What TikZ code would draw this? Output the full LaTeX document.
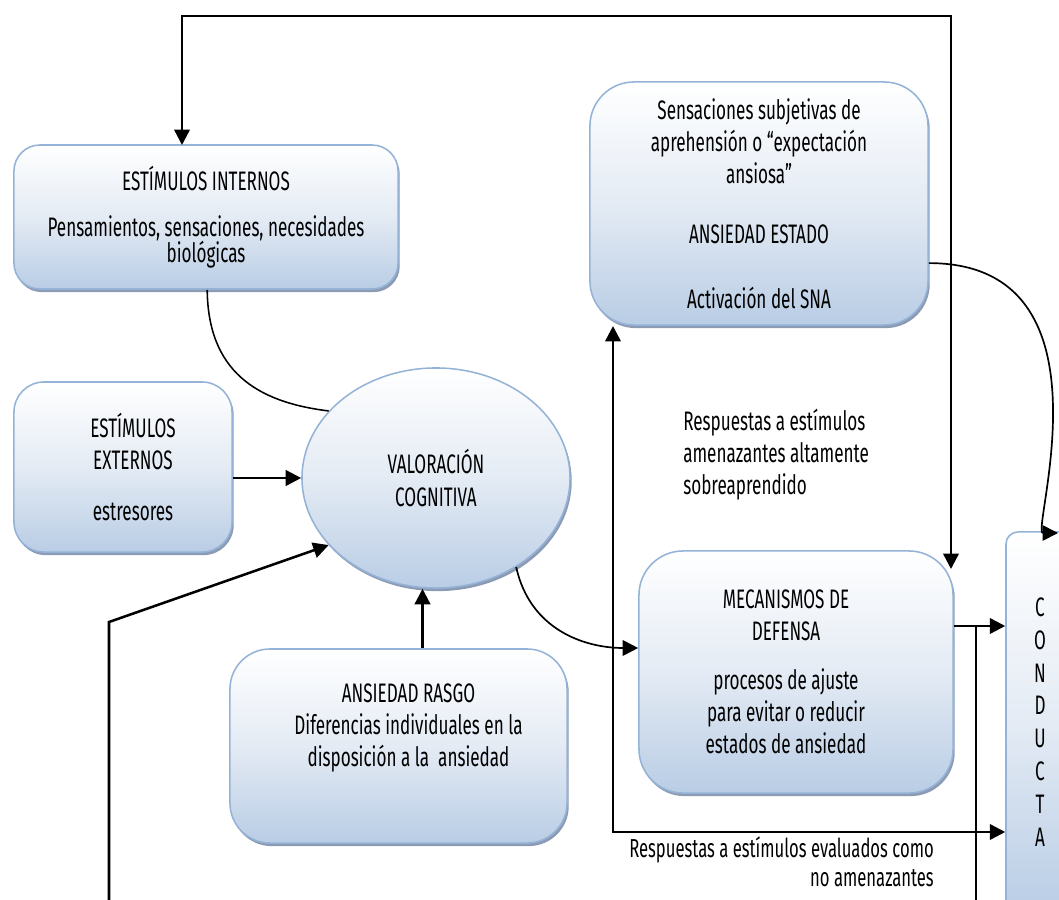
\documentclass[tikz,border=0pt]{standalone}
\usepackage{fontspec}
\setmainfont[FakeStretch=0.64]{Fira Sans}
\usepackage{tikz}
\usetikzlibrary{
  positioning,
  calc,
  arrows.meta,
  shapes.geometric,
  shadows
}
\definecolor{bordeazul}{RGB}{149,179,215}
\definecolor{fondoazul}{RGB}{185,205,229}
\definecolor{medioazul}{RGB}{228,235,244}
\definecolor{sombra}{RGB}{140,155,180}
\tikzstyle{caja}=[draw=bordeazul, line width=1.1pt, top color=white, bottom color=fondoazul, middle color=medioazul, drop shadow={shadow xshift=1.2pt, shadow yshift=-2.2pt, fill=sombra, opacity=1}, align=center, inner sep=0pt]
\tikzstyle{flecha}=[-{Triangle[length=11pt, width=11pt]}, line width=1.8pt]
\tikzstyle{dobleflecha}=[{Triangle[length=11pt, width=11pt]}-{Triangle[length=11pt, width=11pt]}, line width=1.8pt]
\tikzstyle{linea}=[line width=1.8pt]
\tikzstyle{curva}=[line width=1.1pt]

\begin{document}
\begin{tikzpicture}[x=0.025cm, y=-0.025cm, font=\fontsize{19}{22.8}\selectfont]
        \useasboundingbox (0,0) rectangle (1059,900);
        \clip (0,0) rectangle (1059,900);

        % cajas
        \node[caja, rounded corners=0.65cm, minimum width=9.6cm, minimum height=3.6cm] (internos) at (206,217)
          {ESTÍMULOS INTERNOS\\[10pt] Pensamientos, sensaciones, necesidades\\[-4pt] biológicas};
        \node[caja, rounded corners=1.1cm, minimum width=8.45cm, minimum height=6.075cm] (estado) at (759,203.5)
          {Sensaciones subjetivas de\\ aprehensión o “expectación\\ ansiosa”\\[20pt] ANSIEDAD ESTADO\\[23pt] Activación del SNA};
        \node[caja, rounded corners=0.75cm, minimum width=5.45cm, minimum height=4.25cm] (externos) at (123,467)
          {\hspace*{0.5cm}ESTÍMULOS\\ \hspace*{0.5cm}EXTERNOS\\[13pt] \hspace*{0.5cm}estresores};
        \node[caja, ellipse, minimum width=6.7cm, minimum height=5.5cm] (valoracion) at (436,478)
          {VALORACIÓN\\ COGNITIVA};
        \node[caja, rounded corners=1cm, minimum width=8.425cm, minimum height=4.85cm] (rasgo) at (398.5,746)
          {\hspace*{0.5cm}ANSIEDAD RASGO\\ \hspace*{0.5cm}Diferencias individuales en la\\ \hspace*{0.5cm}disposición a la\ \ ansiedad\\ \strut};
        \node[caja, rounded corners=1.1cm, minimum width=7.85cm, minimum height=6.05cm] (mecanismos) at (796,672)
          {\hspace*{-0.5cm}MECANISMOS DE\\ \hspace*{-0.5cm}DEFENSA\\[12pt] \hspace*{-0.5cm}procesos de ajuste\\ \hspace*{-0.5cm}para evitar o reducir\\ \hspace*{-0.5cm}estados de ansiedad};
        \node[caja, rounded corners=0.3cm, minimum width=1.7cm, minimum height=9.5cm, font=\fontsize{19}{23.4}\selectfont] (conducta) at (1040,722)
          {C\\ O\\ N\\ D\\ U\\ C\\ T\\ A};

        % textos sueltos
        \node[align=left, anchor=west, inner sep=0pt] (respalta) at (683,455)
          {Respuestas a estímulos\\ amenazantes altamente\\ sobreaprendido};
        \node[align=right, anchor=east, inner sep=0pt, font=\fontsize{18.5}{20.5}\selectfont] (respbaja) at (934,862)
          {Respuestas a estímulos evaluados como\\ no amenazantes};

        % lazo superior
        \coordinate (intIn) at (182,145);
        \coordinate (topL) at (182,16);
        \coordinate (topR) at (951,16);
        \coordinate (mecIn) at (951,569);
        \draw[dobleflecha] (intIn) -- (topL) -- (topR) -- (mecIn);

        % hacia la valoración
        \draw[curva] ([xshift=0.03cm]internos.south) .. controls (208,370) and (255,402) .. (valoracion.148);
        \draw[flecha] (externos.east |- valoracion.west) -- (valoracion.west);
        \draw[flecha] ([xshift=0.6cm]rasgo.north) -- ([xshift=0.6cm]rasgo.north |- valoracion.south);
        \coordinate (izqB) at (109,905);
        \coordinate (izqC) at (109,622);
        \draw[flecha] (izqB) -- (izqC) -- (valoracion.212);

        % valoración -> mecanismos
        \draw[flecha, line width=1.2pt] (valoracion.312) .. controls (530,630) and (585,648) .. ([yshift=0.6cm]mecanismos.west);

        % lazo inferior
        \coordinate (estIn) at (613,326);
        \coordinate (bajoIzq) at (613,832);
        \draw[dobleflecha] (estIn) -- (bajoIzq) -- (bajoIzq -| conducta.west);

        % hacia la conducta
        \draw[flecha] ([yshift=1.15cm]mecanismos.east) -- ([yshift=1.15cm]mecanismos.east -| conducta.west);
        \coordinate (derT) at (976,626);
        \coordinate (derB) at (976,905);
        \draw[linea] (derT) -- (derB);
        \coordinate (condIn) at (1058,533);
        \draw[flecha, line width=1.2pt] ([yshift=-1.49cm]estado.east) .. controls (1120,263) and (1030,533) .. (condIn);
\end{tikzpicture}
\end{document}
